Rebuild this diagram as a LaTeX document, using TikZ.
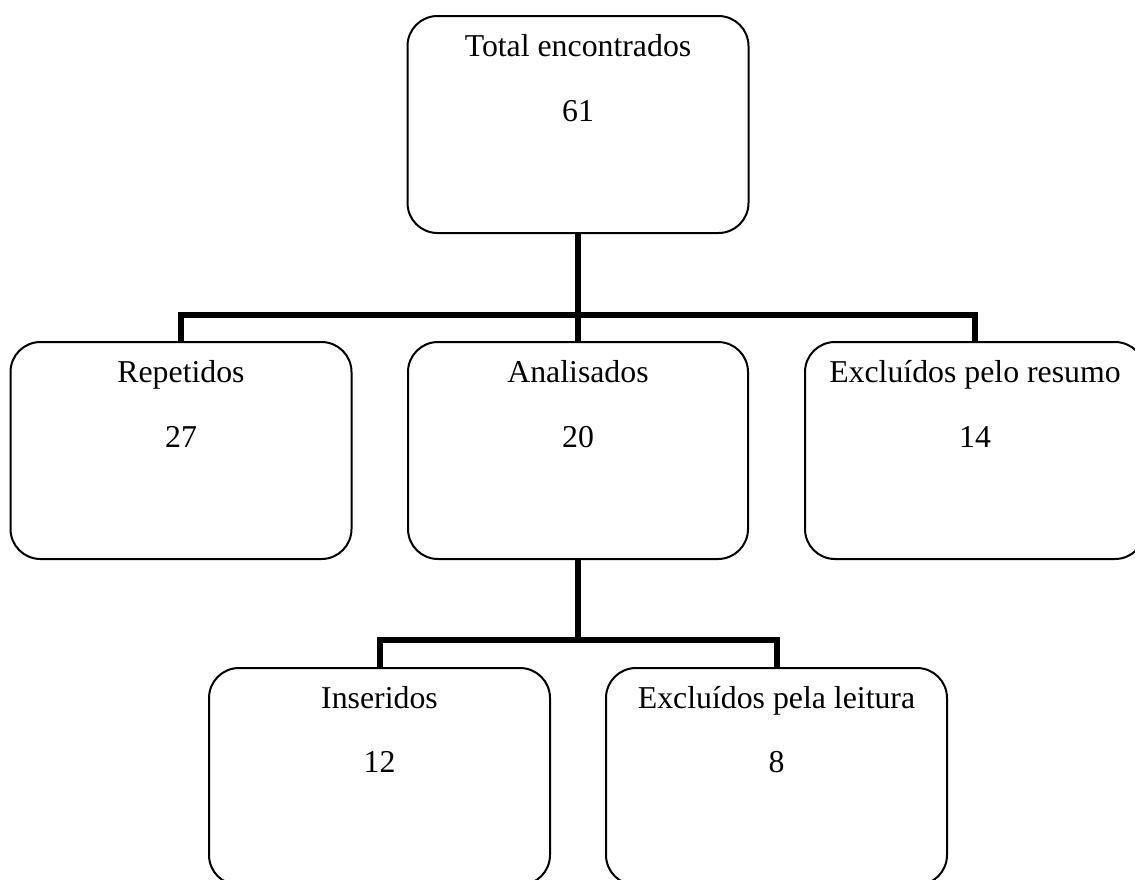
\documentclass[tikz,border=0pt]{standalone}
\usepackage{fontspec}
\setmainfont{Liberation Serif}
\begin{document}
\begin{tikzpicture}[x=1pt,y=-1pt,
  box/.style={draw=black, line width=2pt, rounded corners=30pt, rectangle,
    minimum width=341pt, minimum height=217pt, inner sep=0pt},
  conn/.style={draw=black, line width=6pt},
  lbl/.style={anchor=base, inner sep=0pt, font=\fontsize{31.8}{38}\selectfont}]
\useasboundingbox (0,0) rectangle (1135,879);
\clip (0,0) rectangle (1135,879);
% boxes
\node[box] (top) at (578,124.5) {};
\node[box] (rep) at (181,450.5) {};
\node[box, minimum width=340pt] (ana) at (578,450.5) {};
\node[box, minimum width=340pt] (exc) at (975,450.5) {};
\node[box] (ins) at (379.5,776.5) {};
\node[box] (lei) at (776.5,776.5) {};
% texts
\node[lbl] (topT) at ([yshift=-41.5pt]top.north) {Total encontrados};
\node[lbl] (topN) at ([yshift=-106pt]top.north) {61};
\node[lbl] (repT) at ([yshift=-41.5pt]rep.north) {Repetidos};
\node[lbl] (repN) at ([yshift=-106pt]rep.north) {27};
\node[lbl] (anaT) at ([yshift=-41.5pt]ana.north) {Analisados};
\node[lbl] (anaN) at ([yshift=-106pt]ana.north) {20};
\node[lbl] (excT) at ([yshift=-41.5pt]exc.north) {Excluídos pelo resumo};
\node[lbl] (excN) at ([yshift=-106pt]exc.north) {14};
\node[lbl] (insT) at ([yshift=-41pt]ins.north) {Inseridos};
\node[lbl] (insN) at ([yshift=-105pt]ins.north) {12};
\node[lbl] (leiT) at ([yshift=-41pt]lei.north) {Excluídos pela leitura};
\node[lbl] (leiN) at ([yshift=-105pt]lei.north) {8};
% connectors
\coordinate (hub1) at (578,315);
\coordinate (hub2) at (578,640);
\draw[conn] (rep.north) |- (hub1) -| (exc.north);
\draw[conn] (top.south) -- (ana.north);
\draw[conn] (ins.north) |- (hub2) -| (lei.north);
\draw[conn] (ana.south) -- (hub2);
\end{tikzpicture}
\end{document}
